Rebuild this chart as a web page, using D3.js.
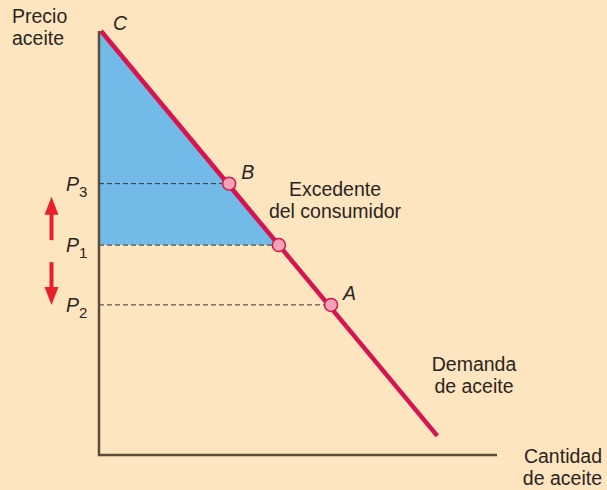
<!DOCTYPE html>
<html>
<head>
<meta charset="utf-8">
<script src="https://cdn.jsdelivr.net/npm/d3@7"></script>
<style>
  body { margin: 0; background: #fde5c0; }
  svg text { font-family: "Liberation Sans", Arial, sans-serif; fill: #2b2420; }
</style>
</head>
<body>
<div id="chart"></div>
<script>
// demand curve (quantity, price) in chart units
var demandQ = [0.5, 85]
var demandP = [100, 4.5]

// marked points on the curve
var pointNames = ["B", "", "A"]
var pointQ = [32.7, 45.2, 58.3]
var pointP = [64, 49.5, 35.4]

// price levels on the y axis
var priceLabels = ["3", "1", "2"]   // P3, P1, P2

var width = 607, height = 490

var svg = d3.select("#chart").append("svg")
    .attr("width", width)
    .attr("height", height)

svg.append("rect").attr("width", width).attr("height", height).attr("fill", "#fde5c0")

var x = d3.scaleLinear().domain([0, 100]).range([99, 497])
var y = d3.scaleLinear().domain([0, 100]).range([455, 31])

// consumer surplus area (between C, P1 point and the axis)
svg.append("path")
    .attr("d", d3.line()([
      [x(0), y(demandP[0])],
      [x(demandQ[0]), y(demandP[0])],
      [x(pointQ[1]), y(pointP[1])],
      [x(0), y(pointP[1])]
    ]))
    .attr("fill", "#72bbe8")

// dashed price lines
svg.selectAll(".dash")
    .data(pointQ)
  .enter().append("line")
    .attr("class", "dash")
    .attr("x1", x(0))
    .attr("x2", d => x(d))
    .attr("y1", (d, i) => y(pointP[i]))
    .attr("y2", (d, i) => y(pointP[i]))
    .attr("stroke", "#3a3330")
    .attr("stroke-width", 1)
    .attr("stroke-dasharray", "5,3")

// axes
svg.append("path")
    .attr("d", d3.line()([[x(0), y(100)], [x(0), y(0)], [x(100), y(0)]]))
    .attr("fill", "none")
    .attr("stroke", "#5e4c3a")
    .attr("stroke-width", 2.5)

// demand line
svg.append("line")
    .attr("x1", x(demandQ[0])).attr("y1", y(demandP[0]))
    .attr("x2", x(demandQ[1])).attr("y2", y(demandP[1]))
    .attr("stroke", "#d6144f")
    .attr("stroke-width", 4.5)

// points
svg.selectAll(".pt")
    .data(pointQ)
  .enter().append("circle")
    .attr("class", "pt")
    .attr("cx", d => x(d))
    .attr("cy", (d, i) => y(pointP[i]))
    .attr("r", 6.5)
    .attr("fill", "#f4a3b6")
    .attr("stroke", "#d6144f")
    .attr("stroke-width", 1.5)

// point letters
svg.selectAll(".ptlab")
    .data(pointNames)
  .enter().append("text")
    .attr("x", (d, i) => x(pointQ[i]) + 12)
    .attr("y", (d, i) => y(pointP[i]) - 5)
    .attr("font-size", 19.5)
    .attr("font-style", "italic")
    .text(d => d)

svg.append("text")
    .attr("x", 113).attr("y", 30)
    .attr("font-size", 19.5)
    .attr("font-style", "italic")
    .text("C")

// P labels
var plab = svg.selectAll(".plab")
    .data(priceLabels)
  .enter().append("text")
    .attr("x", 66)
    .attr("y", (d, i) => y(pointP[i]) + 7)
    .attr("font-size", 19.5)
plab.append("tspan").attr("font-style", "italic").text("P")
plab.append("tspan").attr("font-size", 15).attr("dy", 6).text(d => d)

// red arrows (shaft start, tip)
var arrows = [[y(pointP[1]) - 5, y(pointP[0]) + 13], [y(pointP[1]) + 17, y(pointP[2])]]
arrows.forEach(function(a) {
  var dir = a[1] < a[0] ? -1 : 1
  var headLen = 18, headW = 7, ax = 51.5
  svg.append("line")
      .attr("x1", ax).attr("x2", ax)
      .attr("y1", a[0]).attr("y2", a[1] - dir * headLen + dir * 1)
      .attr("stroke", "#e8202d")
      .attr("stroke-width", 4)
  svg.append("path")
      .attr("d", d3.line()([[ax, a[1]], [ax - headW, a[1] - dir * headLen], [ax + headW, a[1] - dir * headLen]]) + "Z")
      .attr("fill", "#e8202d")
})

// multi-line labels
function label(lines, xx, yy, anchor) {
  var t = svg.append("text")
      .attr("x", xx).attr("y", yy)
      .attr("font-size", 19.5)
      .attr("text-anchor", anchor)
  lines.forEach(function(l, i) {
    t.append("tspan").attr("x", xx).attr("dy", i ? 22 : 0).text(l)
  })
}
label(["Precio", "aceite"], 12, 23, "start")
label(["Excedente", "del consumidor"], 335, 196, "middle")
label(["Demanda", "de aceite"], 474, 371, "middle")
label(["Cantidad", "de aceite"], 602, 463, "end")
</script>
</body>
</html>
